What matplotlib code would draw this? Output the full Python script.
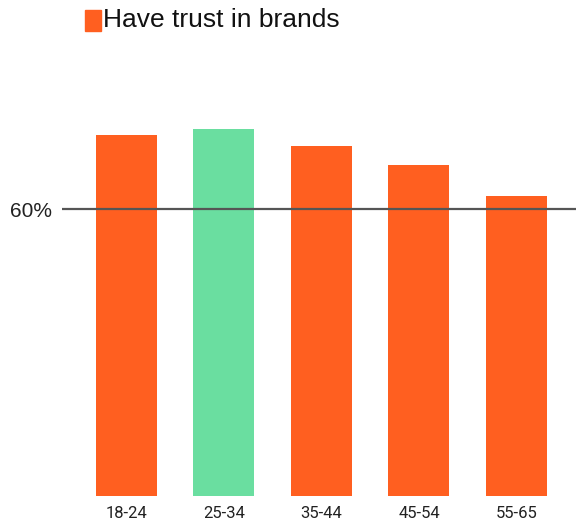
import matplotlib
matplotlib.use("Agg")
import matplotlib.pyplot as plt
from matplotlib.patches import Rectangle

# values (percent)
age_groups = ["18-24", "25-34", "35-44", "45-54", "55-65"]
trust_pct = [75.5, 76.7, 73.2, 69.2, 62.7]
highlight = "25-34"

ORANGE = "#FF5F20"
GREEN = "#6ADEA0"

W, H = 576, 523
fig = plt.figure(figsize=(W / 100, H / 100), dpi=100)

# axes box in pixel terms: left 62, bottom 496, reaching the top of the image
ax = fig.add_axes([62 / W, (H - 496) / H, (W - 62) / W, 496 / H])

x = list(range(len(age_groups)))
colors = [GREEN if g == highlight else ORANGE for g in age_groups]
ax.bar(x, trust_pct, width=0.626, color=colors, zorder=1)

ax.axhline(60, color="#555555", lw=1.6, zorder=2)

ax.set_xlim(-0.66, len(age_groups) - 1 + 0.61)
ax.set_ylim(0, 103.7)

for s in ax.spines.values():
    s.set_visible(False)

ax.set_yticks([60])
ax.set_yticklabels(["60%"], fontfamily="Liberation Sans", fontsize=15, color="#222222")
ax.tick_params(axis="y", length=0, pad=7)

ax.set_xticks(x)
ax.set_xticklabels(age_groups, fontfamily="Roboto", fontsize=12, color="#222222")
ax.tick_params(axis="x", length=0, pad=7)

# legend
fig.patches.append(Rectangle((84.5 / W, 1 - 31 / H), 16.5 / W, 21 / H,
                             transform=fig.transFigure, color=ORANGE, figure=fig))
fig.text(103 / W, 1 - 20 / H, "Have trust in brands", fontfamily="Liberation Sans",
         fontsize=19, color="#111111", va="center", ha="left")

fig.savefig("out.png", dpi=100)
